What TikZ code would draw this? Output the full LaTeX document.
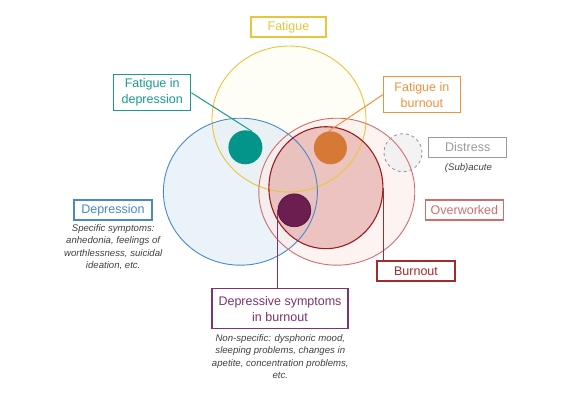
\documentclass[tikz,border=0pt]{standalone}
\usepackage{fontspec}
\setmainfont{Liberation Sans}
\usetikzlibrary{shapes.geometric}
\definecolor{fatY}{HTML}{EBC43A}
\definecolor{fatFill}{HTML}{FFFEF6}
\definecolor{depB}{HTML}{4A88C9}
\definecolor{depFill}{HTML}{D9E7F5}
\definecolor{tealC}{HTML}{1A9B8F}
\definecolor{tealDot}{HTML}{03958A}
\definecolor{orgC}{HTML}{F0913C}
\definecolor{orgDot}{HTML}{D67936}
\definecolor{ovR}{HTML}{D26D6D}
\definecolor{ovFill}{HTML}{FBECEA}
\definecolor{burR}{HTML}{9B1D20}
\definecolor{burFill}{HTML}{E3A3A1}
\definecolor{burTxt}{HTML}{A32A2D}
\definecolor{purC}{HTML}{7E3270}
\definecolor{purDot}{HTML}{6B1E4F}
\definecolor{disG}{HTML}{9A9A9A}
\definecolor{disFill}{HTML}{F0F0F0}
\definecolor{noteG}{HTML}{404040}
\begin{document}
\begin{tikzpicture}[x=1pt,y=-1pt,
  lbl/.style={draw, line width=1.2pt, fill=white, inner sep=0pt, align=center,
    font=\fontsize{12.5}{16}\selectfont},
  note/.style={inner sep=0pt, align=center, text=noteG,
    font=\fontsize{9.6}{12.5}\selectfont\itshape},
  ring/.style={ellipse, inner sep=0pt},
  dot/.style={circle, inner sep=0pt, minimum size=#1}]
\useasboundingbox (0,0) rectangle (576,402);

% fills
\node[ring, minimum width=154pt, minimum height=146pt, fill=fatFill] (fat) at (289,119) {};
\node[ring, minimum width=154pt, minimum height=147pt, fill=depFill, fill opacity=0.55] (dep) at (240.4,191.7) {};
\node[ring, minimum width=156pt, minimum height=147pt, fill=ovFill, fill opacity=0.6] (ov) at (336.8,191.7) {};
\node[ring, minimum width=114pt, minimum height=122pt, fill=burFill, fill opacity=0.6] (bur) at (325.9,187.7) {};
\node[dot=38pt, fill=disFill, fill opacity=0.8] (dis) at (403,152.7) {};

% strokes
\node[ring, minimum width=154pt, minimum height=146pt, draw=fatY, line width=0.9pt] (fatS) at (fat) {};
\node[ring, minimum width=154pt, minimum height=147pt, draw=depB, line width=0.9pt] (depS) at (dep) {};
\node[ring, minimum width=156pt, minimum height=147pt, draw=ovR, line width=0.9pt] (ovS) at (ov) {};
\node[ring, minimum width=114pt, minimum height=122pt, draw=burR, line width=1.1pt] (burS) at (bur) {};
\node[dot=38pt, draw=disG, dashed, line width=0.9pt] (disS) at (dis) {};

% dots
\node[dot=34pt, fill=tealDot] (tdot) at (245.4,147.3) {};
\node[dot=33pt, fill=orgDot] (odot) at (330.4,147.8) {};
\node[dot=33pt, fill=purDot, draw=purDot!70!black, line width=0.6pt] (pdot) at (294.4,210.3) {};

% labels
\node[lbl, draw=fatY, text=fatY, minimum width=75pt, minimum height=20pt] (lfat) at (288.5,27) {Fatigue};
\node[lbl, draw=tealC, text=tealC, minimum width=77pt, minimum height=36pt] (lfid) at (152.2,92.7) {Fatigue in\\depression};
\node[lbl, draw=orgC, text=orgC, minimum width=77pt, minimum height=36pt] (lfib) at (421.9,94.7) {Fatigue in\\burnout};
\node[lbl, draw=disG, text=disG, minimum width=78pt, minimum height=20pt] (ldis) at (467.7,147.3) {Distress};
\node[lbl, draw=ovR, text=ovR, minimum width=78pt, minimum height=20pt] (lov) at (464.4,210) {Overworked};
\node[lbl, draw=burTxt, text=burTxt, minimum width=78pt, minimum height=20pt] (lbur) at (416,271) {Burnout};
\node[lbl, draw=depB, text=depB, minimum width=78pt, minimum height=20pt] (ldep) at (112.9,210) {Depression};
\node[lbl, draw=purC, text=purC, minimum width=136pt, minimum height=40pt] (ldsb) at (280,308.7) {Depressive symptoms\\in burnout};

% notes
\node[note] (ndis) at (468.4,167.7) {(Sub)acute};
\node[note] (ndep) at (113.2,247) {Specific symptoms:\\anhedonia, feelings of\\worthlessness, suicidal\\ideation, etc.};
\node[note] (ndsb) at (280.3,356.7) {Non-specific: dysphoric mood,\\sleeping problems, changes in\\apetite, concentration problems,\\etc.};

% connectors
\draw[tealC, line width=1pt] (lfid.east) -- (tdot.67);
\draw[orgC, line width=1pt] (lfib.west) -- (odot.96);
\draw[purC, line width=1.2pt] (pdot.west) -- (pdot.west |- ldsb.north);
\draw[burTxt, line width=1.2pt] (burS.east) -- (burS.east |- lbur.north);
\end{tikzpicture}
\end{document}
